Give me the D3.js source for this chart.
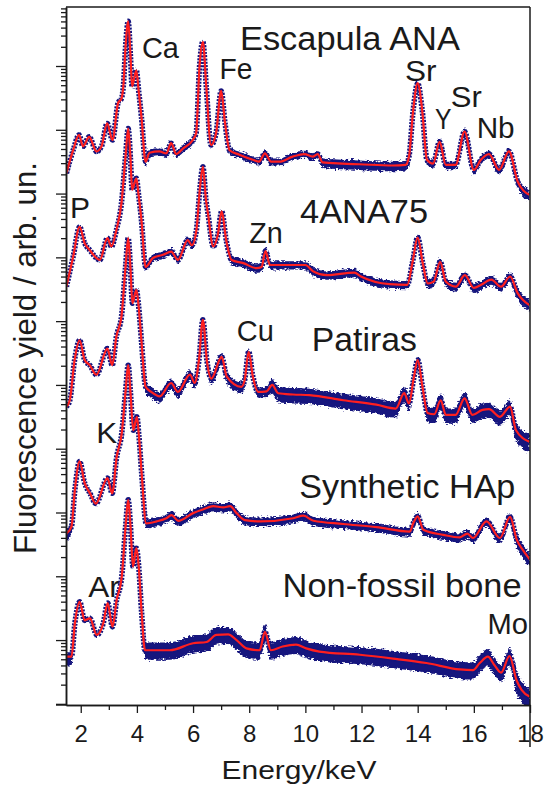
<!DOCTYPE html>
<html>
<head>
<meta charset="utf-8">
<script src="https://cdn.jsdelivr.net/npm/d3@7"></script>
<style>
  html, body { margin: 0; padding: 0; background: #fff; }
  svg { display: block; font-family: "Liberation Sans", Arial, Helvetica, sans-serif; }
</style>
</head>
<body>
<svg id="chart" width="547" height="794"></svg>
<script>
// fitted spectra, [energy keV, log10 yield]
var escapulaFit = [[1.49,8.32],[1.73,8.68],[1.94,8.92],[2.08,8.74],[2.30,8.89],[2.56,8.66],[2.74,8.74],[2.94,9.10],
  [3.13,8.84],[3.33,9.42],[3.45,9.49],[3.52,9.70],[3.60,10.33],[3.69,10.70],[3.77,10.17],[3.83,9.68],[3.89,9.78],
  [3.98,9.93],[4.06,9.62],[4.16,9.21],[4.31,8.50],[4.45,8.64],[4.80,8.66],[5.05,8.63],[5.22,8.79],[5.40,8.62],
  [5.65,8.71],[5.99,8.84],[6.11,8.95],[6.23,9.99],[6.35,10.38],[6.47,9.68],[6.64,8.76],[6.82,8.95],[7.00,9.61],
  [7.14,9.10],[7.30,8.68],[7.65,8.61],[8.13,8.53],[8.35,8.50],[8.56,8.63],[8.78,8.50],[9.07,8.50],[9.55,8.58],
  [9.96,8.62],[10.26,8.58],[10.44,8.62],[10.61,8.49],[11.32,8.47],[11.92,8.46],[13.10,8.44],[13.57,8.45],
  [13.69,8.58],[13.84,9.31],[14.00,9.73],[14.16,9.31],[14.33,8.53],[14.55,8.47],[14.78,8.81],[15.00,8.45],
  [15.35,8.45],[15.67,8.97],[16.00,8.37],[16.25,8.53],[16.54,8.62],[16.90,8.37],[17.25,8.66],[17.56,8.19],[17.98,7.98]];

var ana75Fit = [[1.49,6.54],[1.73,7.01],[1.96,7.48],[2.14,7.22],[2.31,7.12],[2.68,6.96],[2.95,7.30],[3.09,7.17],
  [3.27,7.43],[3.45,7.85],[3.60,8.61],[3.69,9.02],[3.77,8.56],[3.83,8.06],[3.98,8.24],[4.06,7.98],[4.16,7.59],
  [4.31,6.85],[4.57,6.99],[4.93,7.04],[5.22,7.09],[5.46,6.96],[5.81,7.27],[5.96,7.19],[6.12,7.43],[6.24,8.06],
  [6.35,8.42],[6.46,7.90],[6.53,7.69],[6.72,7.17],[6.88,7.35],[7.02,7.72],[7.18,7.27],[7.37,6.96],[7.79,6.91],
  [8.26,6.83],[8.44,6.85],[8.58,7.10],[8.74,6.88],[9.63,6.88],[10.00,6.88],[10.28,6.78],[10.76,6.72],
  [11.74,6.76],[11.98,6.70],[13.00,6.58],[13.63,6.57],[13.81,6.91],[14.00,7.31],[14.18,6.91],[14.36,6.59],
  [14.57,6.62],[14.80,6.93],[15.00,6.62],[15.36,6.54],[15.68,6.72],[16.00,6.52],[16.26,6.57],[16.62,6.65],
  [16.97,6.54],[17.29,6.70],[17.56,6.44],[17.98,6.25]];

var patirasFit = [[1.49,4.66],[1.61,4.76],[1.78,5.39],[1.96,5.70],[2.14,5.39],[2.32,5.31],[2.56,5.16],[2.95,5.57],
  [3.12,5.31],[3.27,5.76],[3.45,6.07],[3.60,6.88],[3.69,7.30],[3.77,6.83],[3.84,6.28],[3.98,6.49],[4.06,6.24],
  [4.16,5.70],[4.31,4.97],[4.51,4.89],[4.81,4.82],[5.22,5.03],[5.46,4.89],[5.89,5.16],[6.06,5.03],[6.21,5.39],
  [6.35,6.02],[6.49,5.39],[6.65,5.10],[7.02,5.44],[7.20,5.13],[7.72,4.97],[7.84,5.08],[7.98,5.52],[8.13,5.13],
  [8.32,4.89],[8.62,4.90],[8.82,5.00],[9.03,4.87],[9.56,4.85],[10.15,4.84],[11.35,4.76],[12.53,4.69],
  [13.22,4.63],[13.52,4.87],[13.69,4.71],[13.85,5.08],[14.00,5.39],[14.17,4.97],[14.35,4.56],[14.59,4.54],
  [14.82,4.76],[15.00,4.53],[15.35,4.53],[15.67,4.79],[15.95,4.53],[16.31,4.61],[16.54,4.62],[16.93,4.50],
  [17.29,4.66],[17.50,4.29],[17.98,4.11]];

var synthFit = [[1.49,2.67],[1.67,2.78],[1.79,3.35],[1.96,3.80],[2.14,3.46],[2.33,3.30],[2.54,3.14],[2.95,3.54],
  [3.12,3.30],[3.28,3.87],[3.46,4.24],[3.60,4.92],[3.69,5.31],[3.77,4.89],[3.87,4.29],[4.00,4.50],[4.07,4.21],
  [4.17,3.61],[4.33,2.83],[4.70,2.86],[5.05,2.91],[5.23,2.96],[5.47,2.87],[6.00,2.99],[6.37,3.05],[6.72,3.10],
  [7.08,3.08],[7.32,3.10],[7.55,2.99],[7.85,2.88],[8.39,2.86],[9.57,2.91],[9.93,2.95],[10.29,2.87],[11.35,2.82],
  [12.54,2.77],[13.72,2.70],[13.84,2.83],[14.00,2.94],[14.20,2.73],[14.91,2.65],[15.50,2.61],[15.77,2.67],
  [15.97,2.60],[16.45,2.86],[16.93,2.60],[17.29,2.93],[17.53,2.57],[17.75,2.41],[18.00,2.26]];

var boneFit = [[1.49,0.74],[1.67,0.74],[1.79,1.26],[1.96,1.60],[2.14,1.31],[2.33,1.34],[2.57,1.08],[2.80,1.26],
  [2.96,1.58],[3.13,1.21],[3.28,1.63],[3.46,1.99],[3.60,2.80],[3.69,3.20],[3.77,2.80],[3.86,2.15],[3.98,2.44],
  [4.06,2.18],[4.17,1.42],[4.29,0.84],[5.17,0.84],[6.00,0.95],[6.48,0.97],[6.83,1.08],[7.25,1.09],[7.55,1.00],
  [7.90,0.87],[8.37,0.84],[8.56,1.13],[8.77,0.84],[9.19,0.90],[9.67,0.93],[10.03,0.87],[10.50,0.82],[11.94,0.77],
  [13.12,0.71],[14.31,0.64],[15.50,0.54],[15.97,0.53],[16.21,0.64],[16.50,0.74],[16.73,0.61],[16.97,0.49],
  [17.27,0.75],[17.52,0.37],[17.70,0.22],[18.00,0.11]];

// scatter of the measured points about the fit, [from keV, decades above, decades below]
var escapulaSpread = [[1.4,0.025,0.025],[4.25,0.05,0.06],[6.1,0.03,0.03],[7.3,0.05,0.06],[10.6,0.06,0.09],
  [13.7,0.03,0.03],[14.3,0.05,0.07],[17.5,0.07,0.10]];
var ana75Spread = [[1.4,0.025,0.025],[4.25,0.05,0.06],[6.1,0.03,0.03],[7.3,0.06,0.07],[13.7,0.04,0.04],
  [14.3,0.06,0.08],[17.5,0.08,0.10]];
var patirasSpread = [[1.4,0.03,0.03],[4.25,0.07,0.10],[6.2,0.04,0.04],[6.6,0.07,0.10],[7.9,0.04,0.04],
  [8.2,0.07,0.09],[8.7,0.10,0.14],[13.8,0.05,0.05],[14.3,0.10,0.14],[17.5,0.12,0.16]];
var synthSpread = [[1.4,0.06,0.12],[1.75,0.03,0.03],[4.25,0.06,0.08],[17.5,0.09,0.12]];
var boneSpread = [[1.4,0.07,0.14],[1.75,0.03,0.03],[4.25,0.12,0.15],[17.4,0.14,0.19]];

var sampleNames = ["Escapula ANA", "4ANA75", "Patiras", "Synthetic HAp", "Non-fossil bone"];

// peak / sample annotations: [text, keV, log10 yield at baseline, kind, width px]
var annotations = [
  ["Ca", 4.18, 10.125, "el", 37], ["Escapula ANA", 7.67, 10.25, "name", 220],
  ["Fe", 6.94, 9.79, "el", 33], ["Sr", 13.55, 9.765, "el", 31.5], ["Y", 14.62, 9.01, "el", 16.5],
  ["Sr", 15.18, 9.36, "el", 31], ["Nb", 16.10, 8.866, "el", 38],
  ["P", 1.62, 7.62, "el", 20], ["4ANA75", 9.81, 7.534, "name", 128], ["Zn", 8.00, 7.23, "el", 33.5],
  ["Cu", 7.56, 5.688, "el", 37], ["Patiras", 10.23, 5.532, "name", 105],
  ["K", 2.55, 4.094, "el", 21], ["Synthetic HAp", 9.785, 3.235, "name", 216],
  ["Ar", 2.27, 1.67, "el", 31.5], ["Non-fossil bone", 9.19, 1.67, "name", 239],
  ["Mo", 16.49, 1.094, "el", 40.5]
];

var xMajor = [2, 4, 6, 8, 10, 12, 14, 16, 18];
var xMinor = [3, 5, 7, 9, 11, 13, 15, 17];

var spectra = [
  { name: sampleNames[0], fit: escapulaFit, spread: escapulaSpread },
  { name: sampleNames[1], fit: ana75Fit, spread: ana75Spread },
  { name: sampleNames[2], fit: patirasFit, spread: patirasSpread },
  { name: sampleNames[3], fit: synthFit, spread: synthSpread },
  { name: sampleNames[4], fit: boneFit, spread: boneSpread }
];

var plotL = 66, plotR = 530, plotT = 7, plotB = 705;
var navy = "#14147e", red = "#ff1f1f", ink = "#1a1a1a";

var svg = d3.select("#chart");

var x = d3.scaleLinear().domain([1.475, 18]).range([plotL, plotR]);
var y = d3.scaleLog().domain([Math.pow(10, -0.018), Math.pow(10, 10.925)]).range([plotB, plotT]);

var defs = svg.append("defs");
defs.append("clipPath").attr("id", "plotClip")
  .append("rect").attr("x", plotL).attr("y", plotT).attr("width", plotR - plotL).attr("height", plotB - plotT);

// ragged edge for the scatter band
var rough = defs.append("filter").attr("id", "rough")
  .attr("x", "-5%").attr("y", "-20%").attr("width", "110%").attr("height", "140%");
rough.append("feTurbulence").attr("type", "fractalNoise").attr("baseFrequency", "0.35 0.6")
  .attr("numOctaves", 2).attr("seed", 3).attr("result", "noise");
rough.append("feDisplacementMap").attr("in", "SourceGraphic").attr("in2", "noise")
  .attr("scale", 6).attr("xChannelSelector", "R").attr("yChannelSelector", "G");

function spreadAt(spread, e) {
  var s = spread[0];
  for (var i = 0; i < spread.length; i++) {
    if (spread[i][0] <= e) s = spread[i];
  }
  return s;
}

// annotations sit underneath the spectra
var ann = svg.append("g").attr("class", "annotations");
annotations.forEach(function(a) {
  ann.append("text")
    .attr("x", x(a[1]))
    .attr("y", y(Math.pow(10, a[2])))
    .attr("font-size", a[3] === "name" ? 33 : 29)
    .attr("textLength", a[4])
    .attr("lengthAdjust", "spacingAndGlyphs")
    .attr("fill", ink)
    .text(a[0]);
});

var plot = svg.append("g").attr("clip-path", "url(#plotClip)");

var line = d3.line()
  .curve(d3.curveMonotoneX)
  .x(function(d) { return x(d[0]); })
  .y(function(d) { return y(Math.pow(10, d[1])); });

spectra.forEach(function(s) {
  var g = plot.append("g").attr("class", "spectrum");

  var band = d3.area()
    .curve(d3.curveMonotoneX)
    .x(function(d) { return x(d[0]); })
    .y0(function(d) { return y(Math.pow(10, d[1] - spreadAt(s.spread, d[0])[2])); })
    .y1(function(d) { return y(Math.pow(10, d[1] + spreadAt(s.spread, d[0])[1])); });

  g.append("path")
    .attr("d", band(s.fit))
    .attr("fill", navy)
    .attr("filter", "url(#rough)");

  // measured points drawn as a dotted navy trace under the fit
  g.append("path")
    .attr("d", line(s.fit))
    .attr("fill", "none")
    .attr("stroke", navy)
    .attr("stroke-width", 5.5)
    .attr("stroke-dasharray", "2 1.3")
    .attr("stroke-linejoin", "round");

  g.append("path")
    .attr("d", line(s.fit))
    .attr("fill", "none")
    .attr("stroke", red)
    .attr("stroke-width", 2.2)
    .attr("stroke-linejoin", "round");
});

// y axis: log ticks, no labels
var yMajor = [], yMinor = [];
for (var k = 0; k <= 10; k++) {
  yMajor.push(Math.pow(10, k));
  for (var m = 2; m <= 9; m++) {
    var v = m * Math.pow(10, k);
    if (v <= y.domain()[1]) yMinor.push(v);
  }
}

function styleAxis(g) {
  g.select(".domain").attr("stroke", ink).attr("stroke-width", 1.5);
  g.selectAll(".tick line").attr("stroke", ink).attr("stroke-width", 1.3);
}

svg.append("g").attr("transform", "translate(" + plotL + ",0)")
  .call(d3.axisLeft(y).tickValues(yMinor).tickSize(5).tickSizeOuter(0).tickFormat(""))
  .call(styleAxis);
svg.append("g").attr("transform", "translate(" + plotL + ",0)")
  .call(d3.axisLeft(y).tickValues(yMajor).tickSize(10).tickSizeOuter(0).tickFormat(""))
  .call(styleAxis);

// x axis
svg.append("g").attr("transform", "translate(0," + plotB + ")")
  .call(d3.axisBottom(x).tickValues(xMinor).tickSize(5).tickSizeOuter(0).tickFormat(""))
  .call(styleAxis);
var xAxis = svg.append("g").attr("transform", "translate(0," + plotB + ")")
  .call(d3.axisBottom(x).tickValues(xMajor).tickSize(8).tickSizeOuter(0).tickPadding(12).tickFormat(d3.format("d")))
  .call(styleAxis);
xAxis.selectAll(".tick text")
  .attr("font-size", 24)
  .attr("font-family", "\"Liberation Sans\", Arial, sans-serif")
  .attr("fill", ink);

// frame: top, right (the right edge runs on past the axis as in the original)
svg.append("line").attr("x1", plotL).attr("x2", plotR).attr("y1", plotT).attr("y2", plotT)
  .attr("stroke", ink).attr("stroke-width", 1.5);
svg.append("line").attr("x1", plotR).attr("x2", plotR).attr("y1", plotT).attr("y2", 747)
  .attr("stroke", ink).attr("stroke-width", 1.5);
svg.append("line").attr("x1", 56).attr("x2", plotL).attr("y1", plotB).attr("y2", plotB)
  .attr("stroke", ink).attr("stroke-width", 1.5);

// axis titles
svg.append("text")
  .attr("x", 299).attr("y", 779)
  .attr("text-anchor", "middle")
  .attr("font-size", 25)
  .attr("textLength", 155).attr("lengthAdjust", "spacingAndGlyphs")
  .attr("fill", ink)
  .text("Energy/keV");

svg.append("text")
  .attr("transform", "translate(36,358) rotate(-90)")
  .attr("text-anchor", "middle")
  .attr("font-size", 32)
  .attr("textLength", 392).attr("lengthAdjust", "spacingAndGlyphs")
  .attr("fill", ink)
  .text("Fluorescence yield / arb. un.");
</script>
</body>
</html>
